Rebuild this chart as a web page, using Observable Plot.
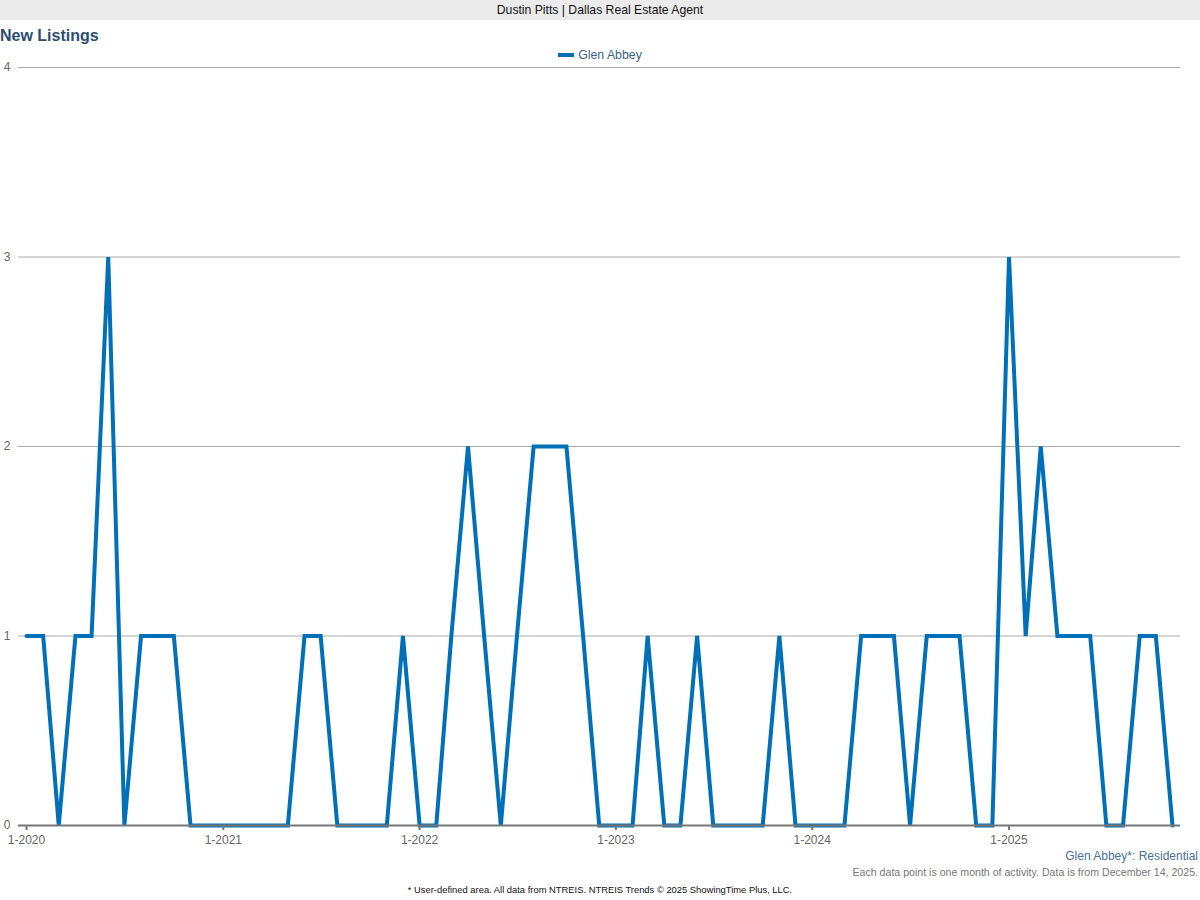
<!DOCTYPE html>
<html>
<head>
<meta charset="utf-8">
<script src="https://cdn.jsdelivr.net/npm/d3@7"></script>
<script src="https://cdn.jsdelivr.net/npm/@observablehq/plot@0.6"></script>
<style>
  html, body { margin: 0; padding: 0; background: #fff; }
  body { width: 1200px; height: 900px; position: relative; overflow: hidden; font-family: "Liberation Sans", Arial, sans-serif; }
  #header { position: absolute; left: 0; top: 0; width: 1200px; height: 20px; background: #ebebeb; color: #111; font-size: 12.2px; line-height: 21px; text-align: center; }
  #title { position: absolute; left: 0px; top: 27px; font-size: 16px; font-weight: bold; color: #2b4e72; }
  #legend { position: absolute; left: 0; top: 48px; width: 1200px; text-align: center; font-size: 12.3px; color: #3b5f8a; }
  #legend .sw { display: inline-block; width: 16px; height: 4px; background: #0070b8; vertical-align: middle; margin-right: 4px; position: relative; top: -1px; }
  #chart { position: absolute; left: 0; top: 60px; }
  #area { position: absolute; right: 2px; top: 849px; font-size: 12px; color: #4a6f9a; }
  #note { position: absolute; right: 2px; top: 866px; font-size: 10.6px; color: #777; }
  #foot { position: absolute; left: 0; top: 884px; width: 1200px; text-align: center; font-size: 9.4px; color: #111; }
</style>
</head>
<body>
<div id="header">Dustin Pitts | Dallas Real Estate Agent</div>
<div id="title">New Listings</div>
<div id="legend"><span class="sw"></span>Glen Abbey</div>
<div id="chart"></div>
<div id="area">Glen Abbey*: Residential</div>
<div id="note">Each data point is one month of activity. Data is from December 14, 2025.</div>
<div id="foot">* User-defined area. All data from NTREIS. NTREIS Trends © 2025 ShowingTime Plus, LLC.</div>
<script>
// Monthly new listings, Jan 2020 – Nov 2025
const startYear = 2020;
const values = [
  1, 1, 0, 1, 1, 3, 0, 1, 1, 1, 0, 0,   // 2020
  0, 0, 0, 0, 0, 1, 1, 0, 0, 0, 0, 1,   // 2021
  0, 0, 1, 2, 1, 0, 1, 2, 2, 2, 1, 0,   // 2022
  0, 0, 1, 0, 0, 1, 0, 0, 0, 0, 1, 0,   // 2023
  0, 0, 0, 1, 1, 1, 0, 1, 1, 1, 0, 0,   // 2024
  3, 1, 2, 1, 1, 1, 0, 0, 1, 1, 0       // 2025 (Jan–Nov)
];
const yearTickLabels = ["1-2020", "1-2021", "1-2022", "1-2023", "1-2024", "1-2025"];
const yTicks = [0, 1, 2, 3, 4];

const data = values.map((v, i) => ({ date: new Date(startYear, i, 1), value: v }));
const yearTicks = yearTickLabels.map(s => new Date(+s.split("-")[1], +s.split("-")[0] - 1, 1));
const labelOf = new Map(yearTicks.map((d, i) => [+d, yearTickLabels[i]]));

const chart = Plot.plot({
  width: 1200,
  height: 800,
  marginTop: 7,
  marginBottom: 35,
  marginLeft: 18,
  marginRight: 20,
  style: { fontFamily: "Liberation Sans, Arial, sans-serif", fontSize: "12px", background: "transparent" },
  x: { type: "time", domain: [data[0].date, data[data.length - 1].date], insetLeft: 8, insetRight: 8 },
  y: { domain: [0, 4] },
  marks: [
    Plot.ruleY(yTicks.filter(t => t > 0), { stroke: "#aaa", strokeWidth: 1 }),
    Plot.axisY({ ticks: yTicks, tickSize: 0, tickPadding: 8, tickFormat: d => String(d), fill: "#666", label: null, fontSize: 12 }),
    Plot.line(data, { x: "date", y: "value", stroke: "#0070b8", strokeWidth: 4, strokeLinejoin: "miter", strokeMiterlimit: 10 }),
    Plot.ruleY([0], { stroke: "#777", strokeWidth: 2 }),
    Plot.axisX({ ticks: yearTicks, tickSize: 5, tickPadding: 5, stroke: "#777", strokeWidth: 2, tickFormat: d => labelOf.get(+d), fill: "#666", label: null, fontSize: 12 })
  ]
});
document.getElementById("chart").appendChild(chart);
</script>
</body>
</html>
